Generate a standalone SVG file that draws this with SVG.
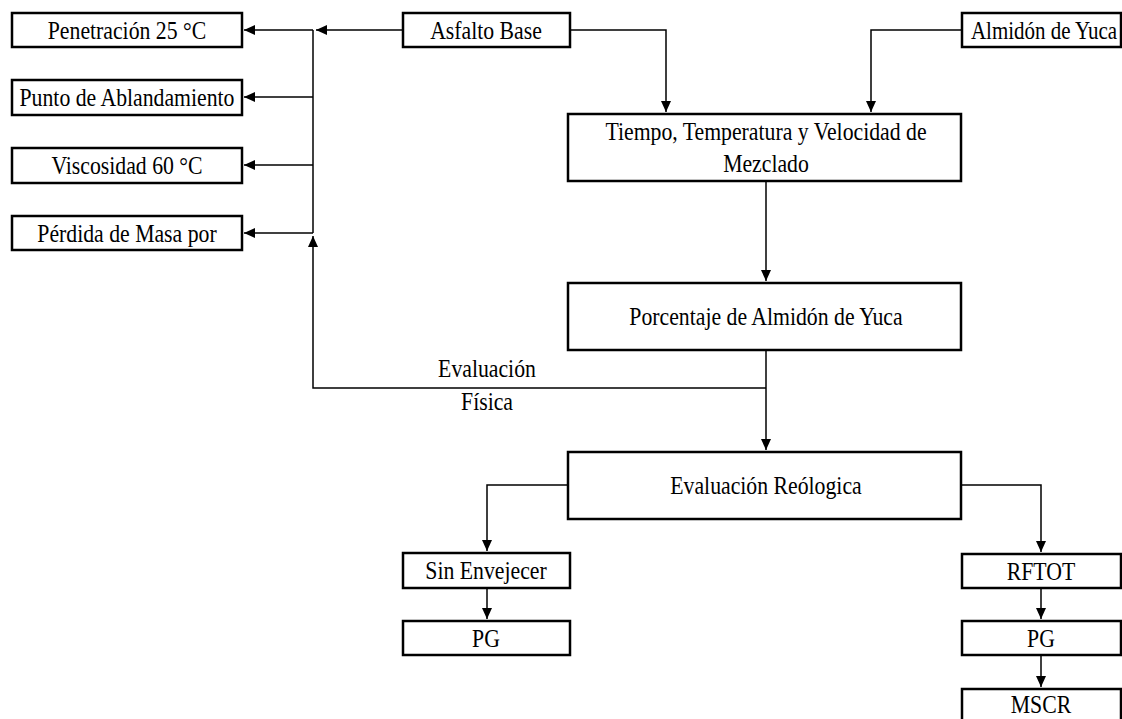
<svg xmlns="http://www.w3.org/2000/svg" width="1122" height="719" viewBox="0 0 1122 719">
<style>
.box{fill:#fff;stroke:#000;stroke-width:2.5}
.t{font-family:'Liberation Serif','Times New Roman',serif;font-size:25px;fill:#000;text-anchor:middle}
.c{fill:none;stroke:#000;stroke-width:1.5}
</style>
<defs>
<marker id="ah" markerUnits="userSpaceOnUse" markerWidth="12" markerHeight="10" refX="11" refY="5" orient="auto">
<path d="M0,0 L11,5 L0,10 Z" fill="#000"/>
</marker>
</defs>
<rect width="1122" height="719" fill="#fff"/>
<g id="connectors">
<path class="c" d="M403,30 H316" marker-end="url(#ah)"/>
<path class="c" d="M313,30 V233"/>
<path class="c" d="M313,30 H244" marker-end="url(#ah)"/>
<path class="c" d="M313,97 H244" marker-end="url(#ah)"/>
<path class="c" d="M313,165 H244" marker-end="url(#ah)"/>
<path class="c" d="M313,233 H244" marker-end="url(#ah)"/>
<path class="c" d="M570,30 H666 V112" marker-end="url(#ah)"/>
<path class="c" d="M962,30 H871 V112" marker-end="url(#ah)"/>
<path class="c" d="M766,181 V281" marker-end="url(#ah)"/>
<path class="c" d="M766,350 V450" marker-end="url(#ah)"/>
<path class="c" d="M766,388 H313 V236" marker-end="url(#ah)"/>
<path class="c" d="M568,485 H487 V551" marker-end="url(#ah)"/>
<path class="c" d="M961,485 H1041 V552" marker-end="url(#ah)"/>
<path class="c" d="M487,588 V619" marker-end="url(#ah)"/>
<path class="c" d="M1041,588 V619" marker-end="url(#ah)"/>
<path class="c" d="M1041,655 V687" marker-end="url(#ah)"/>
<text class="t" transform="translate(487,377) scale(0.87,1)">Evaluación</text>
<text class="t" transform="translate(487,410) scale(0.87,1)">Física</text>
</g>
<g id="n-penetracion"><rect class="box" x="12" y="13" width="230" height="34"/><text class="t" transform="translate(127,39) scale(0.87,1)">Penetración 25 °C</text></g>
<g id="n-punto"><rect class="box" x="12" y="80" width="230" height="35"/><text class="t" transform="translate(127,106) scale(0.87,1)">Punto de Ablandamiento</text></g>
<g id="n-viscosidad"><rect class="box" x="12" y="148" width="230" height="35"/><text class="t" transform="translate(127,174) scale(0.87,1)">Viscosidad 60 °C</text></g>
<g id="n-perdida"><rect class="box" x="12" y="216" width="230" height="34"/><text class="t" transform="translate(127,242) scale(0.87,1)">Pérdida de Masa por</text></g>
<g id="n-asfalto"><rect class="box" x="403" y="13" width="167" height="34"/><text class="t" transform="translate(486,39) scale(0.87,1)">Asfalto Base</text></g>
<g id="n-almidon"><rect class="box" x="962" y="13" width="159" height="34"/><text class="t" transform="translate(1044,39) scale(0.84,1)">Almidón de Yuca</text></g>
<g id="n-tiempo"><rect class="box" x="568" y="114" width="393" height="67"/><text class="t" transform="translate(766,140) scale(0.87,1)">Tiempo, Temperatura y Velocidad de</text><text class="t" transform="translate(766,172) scale(0.87,1)">Mezclado</text></g>
<g id="n-porcentaje"><rect class="box" x="568" y="283" width="393" height="67"/><text class="t" transform="translate(766,325) scale(0.87,1)">Porcentaje de Almidón de Yuca</text></g>
<g id="n-reologica"><rect class="box" x="568" y="452" width="393" height="67"/><text class="t" transform="translate(766,494) scale(0.87,1)">Evaluación Reólogica</text></g>
<g id="n-sin"><rect class="box" x="403" y="553" width="167" height="35"/><text class="t" transform="translate(486,579) scale(0.87,1)">Sin Envejecer</text></g>
<g id="n-pg1"><rect class="box" x="403" y="621" width="167" height="34"/><text class="t" transform="translate(486,647) scale(0.87,1)">PG</text></g>
<g id="n-rftot"><rect class="box" x="962" y="554" width="159" height="34"/><text class="t" transform="translate(1041,580) scale(0.87,1)">RFTOT</text></g>
<g id="n-pg2"><rect class="box" x="962" y="621" width="159" height="34"/><text class="t" transform="translate(1041,647) scale(0.87,1)">PG</text></g>
<g id="n-mscr"><rect class="box" x="962" y="689" width="159" height="40"/><text class="t" transform="translate(1041,713) scale(0.87,1)">MSCR</text></g>
</svg>
